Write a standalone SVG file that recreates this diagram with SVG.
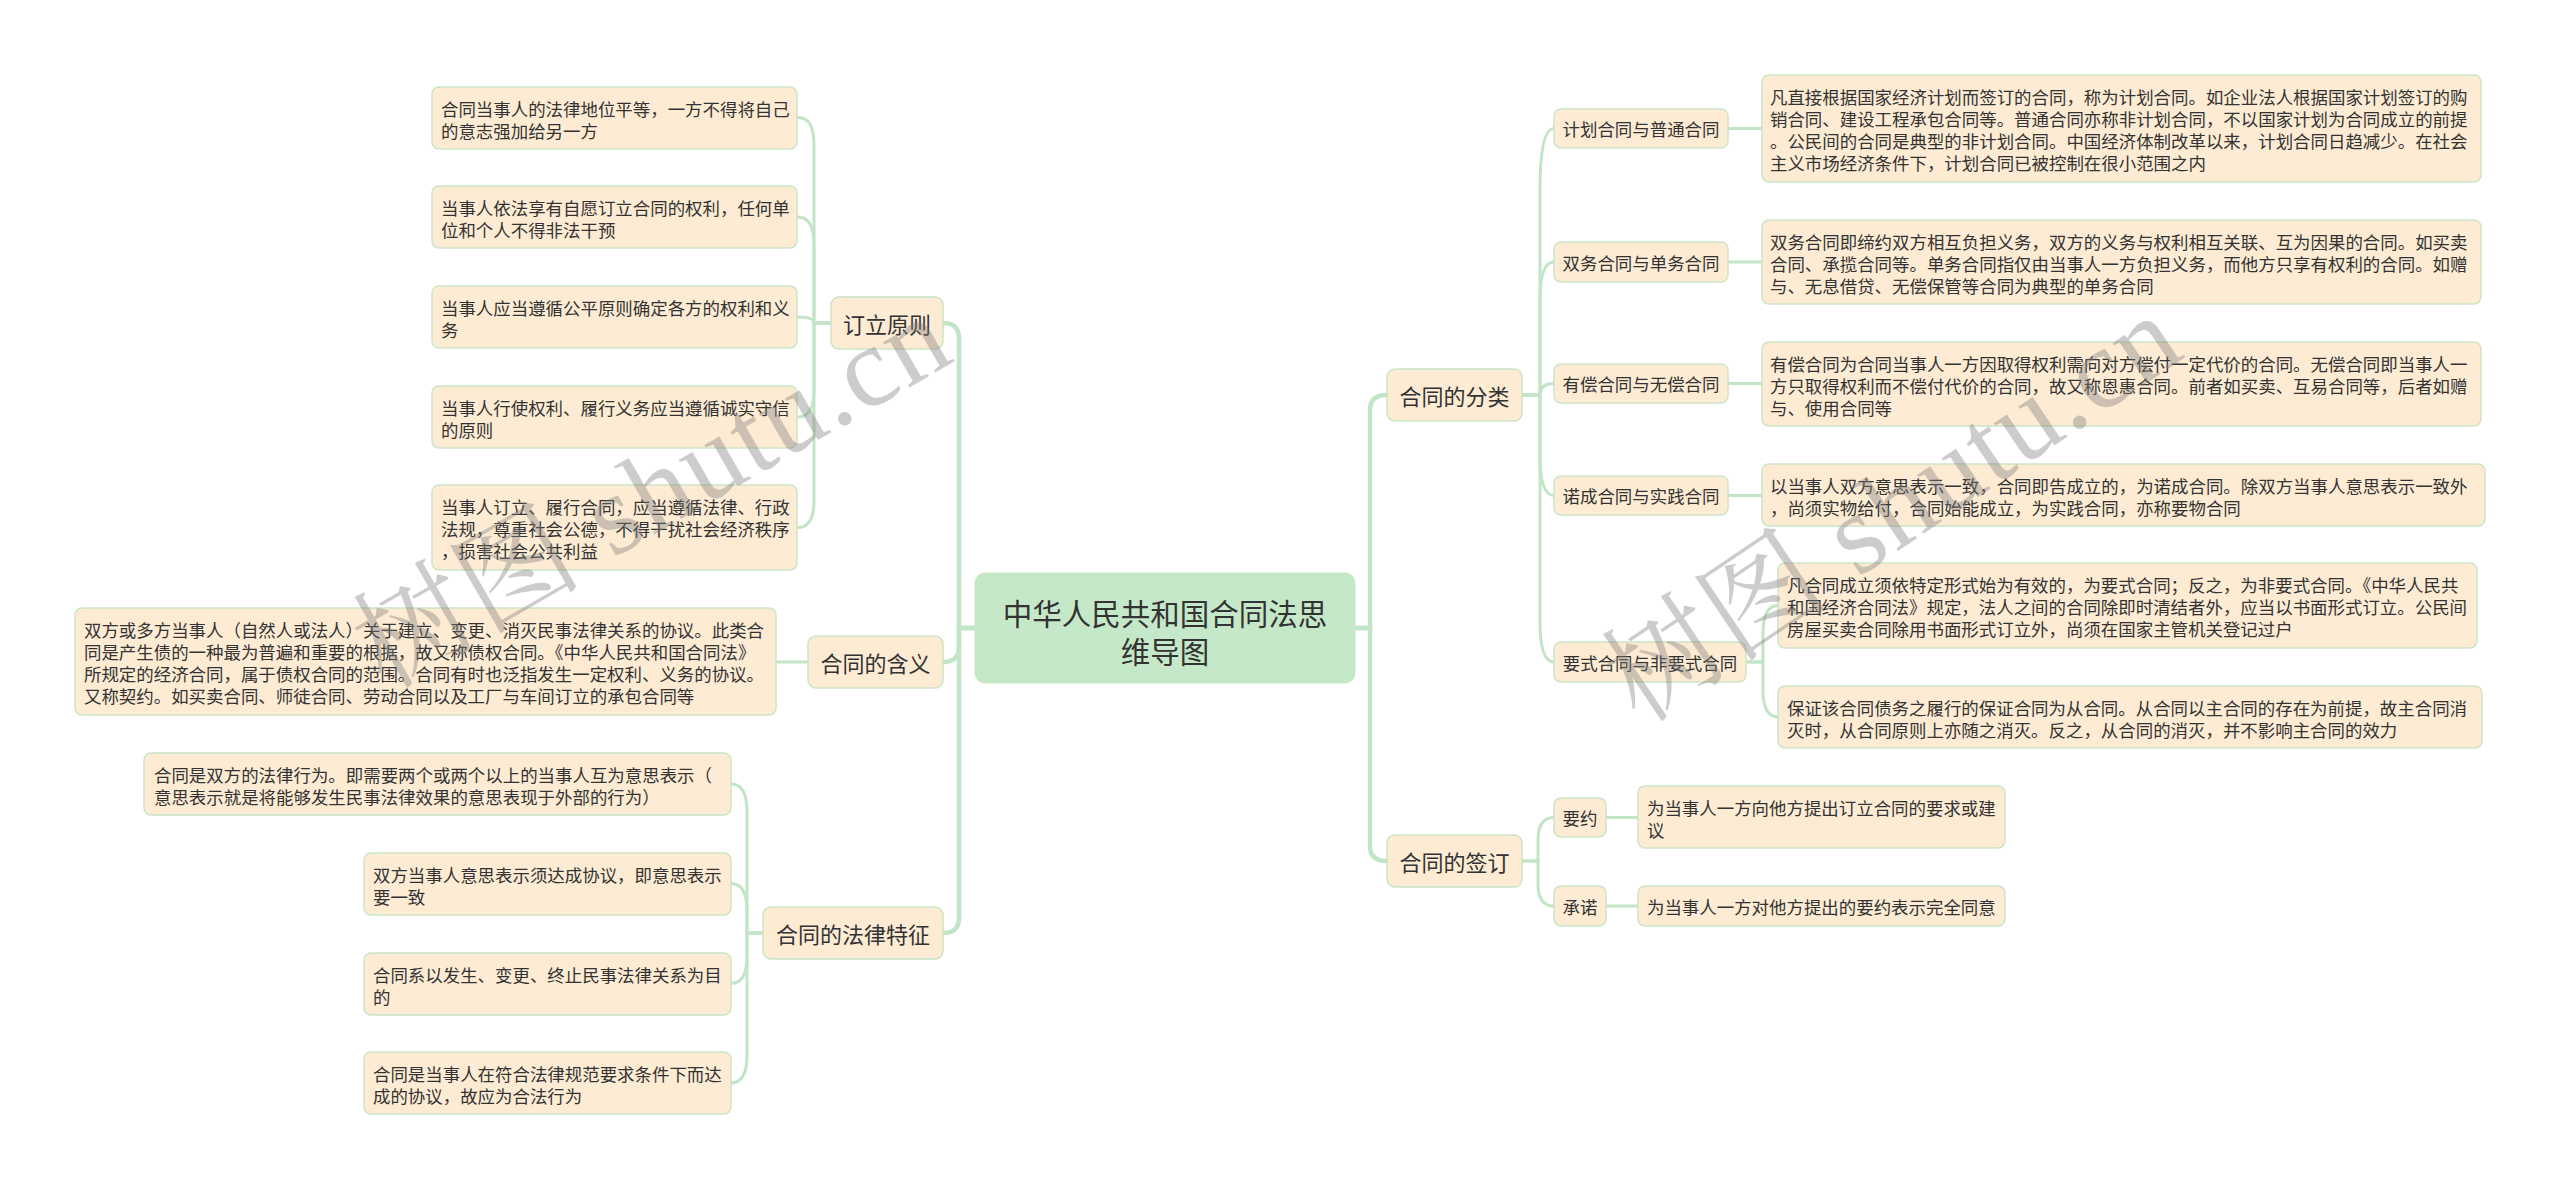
<svg xmlns="http://www.w3.org/2000/svg" width="2560" height="1189" viewBox="0 0 2560 1189">
<style>
.bg{fill:#ffffff}
.n rect{fill:#fdebd3;stroke:#cbe5c6;stroke-width:1.5}
.root rect{fill:#c5e9c8;stroke:#c5e9c8;stroke-width:1}
text{font-family:"Noto Sans CJK SC","Noto Sans",sans-serif;fill:#333333}
.s{font-size:17.45px}
.b{font-size:22px}
.c{font-size:29.5px}
.m{text-anchor:middle}
.links path{fill:none;stroke:#c3e5c7;stroke-width:3;stroke-linecap:round}
.links path.main{stroke-width:4.5}
.wm{font-family:"Liberation Serif","Noto Serif CJK SC","Noto Sans CJK SC",serif;font-size:114px;fill:#808080;fill-opacity:0.4;letter-spacing:2px}
</style>
<rect class="bg" x="0" y="0" width="2560" height="1189"/>

<g class="links" id="connectors">
  <path class="main" d="M975,628 H959 V338 Q959,323 943,323"/>
  <path class="main" d="M975,628 H959 V647 Q959,662 943,662"/>
  <path class="main" d="M975,628 H959 V918 Q959,933 943,933"/>
  <path class="main" d="M1355,628 H1370 V410 Q1370,395 1387,395"/>
  <path class="main" d="M1355,628 H1370 V846 Q1370,861 1387,861"/>

  <path d="M831,323 H814 V145 Q814,117.5 798,117.5"/>
  <path d="M831,323 H814 V245 Q814,217 798,217"/>
  <path d="M831,323 H814 Q814,317 798,317"/>
  <path d="M831,323 H814 V390 Q814,417 798,417"/>
  <path d="M831,323 H814 V500 Q814,527.5 798,527.5"/>

  <path d="M808,662 H776"/>

  <path d="M763,933 H747 V812 Q747,784 731,784"/>
  <path d="M763,933 H747 V911 Q747,883.5 731,883.5"/>
  <path d="M763,933 H747 V956 Q747,983.5 731,983.5"/>
  <path d="M763,933 H747 V1055 Q747,1083 731,1083"/>

  <path d="M1522,395 H1540 V190 Q1540,128.5 1554,128.5"/>
  <path d="M1522,395 H1540 V300 Q1540,262 1554,262"/>
  <path d="M1522,395 H1540 Q1540,383.5 1554,383.5"/>
  <path d="M1522,395 H1540 V455 Q1540,495.5 1554,495.5"/>
  <path d="M1522,395 H1540 V622 Q1540,662 1554,662"/>

  <path d="M1728,128.5 H1762"/>
  <path d="M1728,262 H1762"/>
  <path d="M1728,383.5 H1762"/>
  <path d="M1728,495.5 H1762"/>

  <path d="M1746,662 H1763 V633 Q1763,605.5 1778,605.5"/>
  <path d="M1746,662 H1763 V690 Q1763,717 1778,717"/>

  <path d="M1522,861 H1538 V840 Q1538,817.5 1554,817.5"/>
  <path d="M1522,861 H1538 V884 Q1538,906 1554,906"/>
  <path d="M1606,817.5 H1638"/>
  <path d="M1606,906 H1638"/>
</g>

<g id="root" class="root">
  <rect x="975" y="573" width="380" height="110" rx="10"/>
  <text class="c m" x="1165" y="612" dominant-baseline="central">中华人民共和国合同法思</text>
  <text class="c m" x="1165" y="650" dominant-baseline="central">维导图</text>
</g>

<g id="b-dingli" class="n">
  <rect x="831" y="297" width="112" height="52" rx="8"/>
  <text class="b m" x="887" y="323" dominant-baseline="central">订立原则</text>
</g>
<g id="b-hanyi" class="n">
  <rect x="808" y="636" width="135" height="52" rx="8"/>
  <text class="b m" x="875.5" y="662" dominant-baseline="central">合同的含义</text>
</g>
<g id="b-tezheng" class="n">
  <rect x="763" y="907" width="180" height="52" rx="8"/>
  <text class="b m" x="853" y="933" dominant-baseline="central">合同的法律特征</text>
</g>
<g id="b-fenlei" class="n">
  <rect x="1387" y="369" width="135" height="52" rx="8"/>
  <text class="b m" x="1454.5" y="395" dominant-baseline="central">合同的分类</text>
</g>
<g id="b-qianding" class="n">
  <rect x="1387" y="835" width="135" height="52" rx="8"/>
  <text class="b m" x="1454.5" y="861" dominant-baseline="central">合同的签订</text>
</g>

<g id="l-d1" class="n">
  <rect x="432" y="87" width="365" height="62" rx="7"/>
  <text class="s" x="441" y="108" dominant-baseline="central">合同当事人的法律地位平等，一方不得将自己</text>
  <text class="s" x="441" y="130" dominant-baseline="central">的意志强加给另一方</text>
</g>
<g id="l-d2" class="n">
  <rect x="432" y="186" width="365" height="62" rx="7"/>
  <text class="s" x="441" y="207" dominant-baseline="central">当事人依法享有自愿订立合同的权利，任何单</text>
  <text class="s" x="441" y="229" dominant-baseline="central">位和个人不得非法干预</text>
</g>
<g id="l-d3" class="n">
  <rect x="432" y="286" width="365" height="62" rx="7"/>
  <text class="s" x="441" y="307" dominant-baseline="central">当事人应当遵循公平原则确定各方的权利和义</text>
  <text class="s" x="441" y="329" dominant-baseline="central">务</text>
</g>
<g id="l-d4" class="n">
  <rect x="432" y="386" width="365" height="62" rx="7"/>
  <text class="s" x="441" y="407" dominant-baseline="central">当事人行使权利、履行义务应当遵循诚实守信</text>
  <text class="s" x="441" y="429" dominant-baseline="central">的原则</text>
</g>
<g id="l-d5" class="n">
  <rect x="432" y="485" width="365" height="85" rx="7"/>
  <text class="s" x="441" y="506" dominant-baseline="central">当事人订立、履行合同，应当遵循法律、行政</text>
  <text class="s" x="441" y="528" dominant-baseline="central">法规，尊重社会公德，不得干扰社会经济秩序</text>
  <text class="s" x="441" y="550" dominant-baseline="central">，损害社会公共利益</text>
</g>

<g id="l-h1" class="n">
  <rect x="75" y="608" width="701" height="107" rx="7"/>
  <text class="s" x="84" y="629" dominant-baseline="central">双方或多方当事人（自然人或法人）关于建立、变更、消灭民事法律关系的协议。此类合</text>
  <text class="s" x="84" y="651" dominant-baseline="central">同是产生债的一种最为普遍和重要的根据，故又称债权合同。《中华人民共和国合同法》</text>
  <text class="s" x="84" y="673" dominant-baseline="central">所规定的经济合同，属于债权合同的范围。合同有时也泛指发生一定权利、义务的协议。</text>
  <text class="s" x="84" y="695" dominant-baseline="central">又称契约。如买卖合同、师徒合同、劳动合同以及工厂与车间订立的承包合同等</text>
</g>

<g id="l-t1" class="n">
  <rect x="144" y="753" width="587" height="62" rx="7"/>
  <text class="s" x="154" y="774" dominant-baseline="central">合同是双方的法律行为。即需要两个或两个以上的当事人互为意思表示（</text>
  <text class="s" x="154" y="796" dominant-baseline="central">意思表示就是将能够发生民事法律效果的意思表现于外部的行为）</text>
</g>
<g id="l-t2" class="n">
  <rect x="364" y="853" width="367" height="62" rx="7"/>
  <text class="s" x="373" y="874" dominant-baseline="central">双方当事人意思表示须达成协议，即意思表示</text>
  <text class="s" x="373" y="896" dominant-baseline="central">要一致</text>
</g>
<g id="l-t3" class="n">
  <rect x="364" y="953" width="367" height="62" rx="7"/>
  <text class="s" x="373" y="974" dominant-baseline="central">合同系以发生、变更、终止民事法律关系为目</text>
  <text class="s" x="373" y="996" dominant-baseline="central">的</text>
</g>
<g id="l-t4" class="n">
  <rect x="364" y="1052" width="367" height="62" rx="7"/>
  <text class="s" x="373" y="1073" dominant-baseline="central">合同是当事人在符合法律规范要求条件下而达</text>
  <text class="s" x="373" y="1095" dominant-baseline="central">成的协议，故应为合法行为</text>
</g>

<g id="m-jihua" class="n">
  <rect x="1554" y="109" width="174" height="39" rx="7"/>
  <text class="s m" x="1641" y="128.5" dominant-baseline="central">计划合同与普通合同</text>
</g>
<g id="m-shuangwu" class="n">
  <rect x="1554" y="242" width="174" height="40" rx="7"/>
  <text class="s m" x="1641" y="262" dominant-baseline="central">双务合同与单务合同</text>
</g>
<g id="m-youchang" class="n">
  <rect x="1554" y="364" width="174" height="39" rx="7"/>
  <text class="s m" x="1641" y="383.5" dominant-baseline="central">有偿合同与无偿合同</text>
</g>
<g id="m-nuocheng" class="n">
  <rect x="1554" y="476" width="174" height="39" rx="7"/>
  <text class="s m" x="1641" y="495.5" dominant-baseline="central">诺成合同与实践合同</text>
</g>
<g id="m-yaoshi" class="n">
  <rect x="1554" y="642" width="192" height="40" rx="7"/>
  <text class="s m" x="1650" y="662" dominant-baseline="central">要式合同与非要式合同</text>
</g>
<g id="m-yaoyue" class="n">
  <rect x="1554" y="798" width="52" height="39" rx="7"/>
  <text class="s m" x="1580" y="817.5" dominant-baseline="central">要约</text>
</g>
<g id="m-chengnuo" class="n">
  <rect x="1554" y="886" width="52" height="40" rx="7"/>
  <text class="s m" x="1580" y="906" dominant-baseline="central">承诺</text>
</g>

<g id="r-jihua" class="n">
  <rect x="1762" y="75" width="719" height="107" rx="7"/>
  <text class="s" x="1770" y="96" dominant-baseline="central">凡直接根据国家经济计划而签订的合同，称为计划合同。如企业法人根据国家计划签订的购</text>
  <text class="s" x="1770" y="118" dominant-baseline="central">销合同、建设工程承包合同等。普通合同亦称非计划合同，不以国家计划为合同成立的前提</text>
  <text class="s" x="1770" y="140" dominant-baseline="central">。公民间的合同是典型的非计划合同。中国经济体制改革以来，计划合同日趋减少。在社会</text>
  <text class="s" x="1770" y="162" dominant-baseline="central">主义市场经济条件下，计划合同已被控制在很小范围之内</text>
</g>
<g id="r-shuangwu" class="n">
  <rect x="1762" y="220" width="719" height="84" rx="7"/>
  <text class="s" x="1770" y="241" dominant-baseline="central">双务合同即缔约双方相互负担义务，双方的义务与权利相互关联、互为因果的合同。如买卖</text>
  <text class="s" x="1770" y="263" dominant-baseline="central">合同、承揽合同等。单务合同指仅由当事人一方负担义务，而他方只享有权利的合同。如赠</text>
  <text class="s" x="1770" y="285" dominant-baseline="central">与、无息借贷、无偿保管等合同为典型的单务合同</text>
</g>
<g id="r-youchang" class="n">
  <rect x="1762" y="342" width="719" height="84" rx="7"/>
  <text class="s" x="1770" y="363" dominant-baseline="central">有偿合同为合同当事人一方因取得权利需向对方偿付一定代价的合同。无偿合同即当事人一</text>
  <text class="s" x="1770" y="385" dominant-baseline="central">方只取得权利而不偿付代价的合同，故又称恩惠合同。前者如买卖、互易合同等，后者如赠</text>
  <text class="s" x="1770" y="407" dominant-baseline="central">与、使用合同等</text>
</g>
<g id="r-nuocheng" class="n">
  <rect x="1762" y="464" width="723" height="62" rx="7"/>
  <text class="s" x="1770" y="485" dominant-baseline="central">以当事人双方意思表示一致，合同即告成立的，为诺成合同。除双方当事人意思表示一致外</text>
  <text class="s" x="1770" y="507" dominant-baseline="central">，尚须实物给付，合同始能成立，为实践合同，亦称要物合同</text>
</g>
<g id="r-yaoshi1" class="n">
  <rect x="1778" y="563" width="699" height="85" rx="7"/>
  <text class="s" x="1787" y="584" dominant-baseline="central">凡合同成立须依特定形式始为有效的，为要式合同；反之，为非要式合同。《中华人民共</text>
  <text class="s" x="1787" y="606" dominant-baseline="central">和国经济合同法》规定，法人之间的合同除即时清结者外，应当以书面形式订立。公民间</text>
  <text class="s" x="1787" y="628" dominant-baseline="central">房屋买卖合同除用书面形式订立外，尚须在国家主管机关登记过户</text>
</g>
<g id="r-yaoshi2" class="n">
  <rect x="1778" y="686" width="704" height="62" rx="7"/>
  <text class="s" x="1787" y="707" dominant-baseline="central">保证该合同债务之履行的保证合同为从合同。从合同以主合同的存在为前提，故主合同消</text>
  <text class="s" x="1787" y="729" dominant-baseline="central">灭时，从合同原则上亦随之消灭。反之，从合同的消灭，并不影响主合同的效力</text>
</g>
<g id="r-yaoyue" class="n">
  <rect x="1638" y="786" width="367" height="62" rx="7"/>
  <text class="s" x="1647" y="807" dominant-baseline="central">为当事人一方向他方提出订立合同的要求或建</text>
  <text class="s" x="1647" y="829" dominant-baseline="central">议</text>
</g>
<g id="r-chengnuo" class="n">
  <rect x="1638" y="886" width="367" height="40" rx="7"/>
  <text class="s" x="1647" y="906" dominant-baseline="central">为当事人一方对他方提出的要约表示完全同意</text>
</g>

<g id="watermark">
  <text class="wm" transform="translate(385,690) rotate(-30)">树图 shutu.cn</text>
  <text class="wm" transform="translate(1640,725) rotate(-34)">树图 shutu.cn</text>
</g>
</svg>
